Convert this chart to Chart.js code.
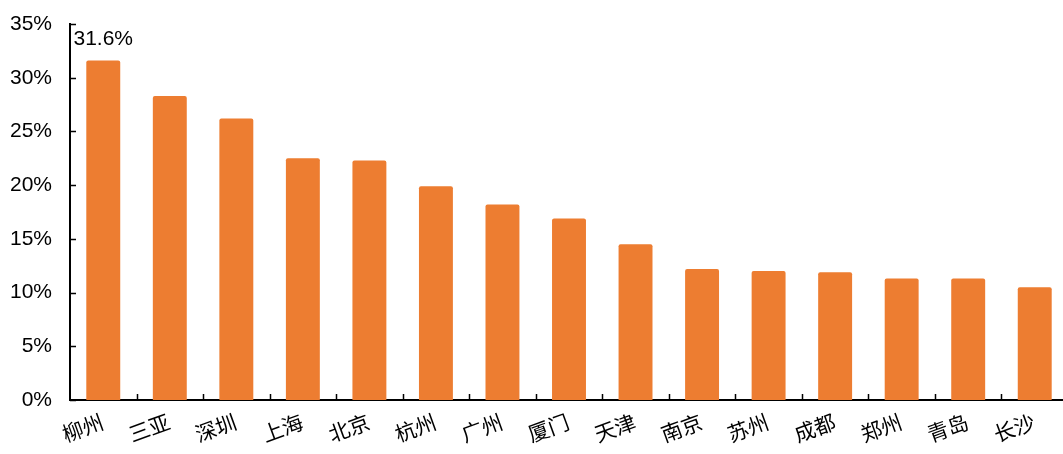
<!DOCTYPE html>
<html lang="zh">
<head>
    <meta charset="UTF-8">
    <title>城市占比</title>
    <script src="https://cdn.jsdelivr.net/npm/chart.js"></script>
    <style>
        html, body {
            margin: 0;
            padding: 0;
            background: #fff;
            overflow: hidden;
        }
        .chart-container {
            position: relative;
            width: 1068px;
            height: 454px;
        }
    </style>
</head>
<body>
    <div class="chart-container">
        <canvas id="barChart"></canvas>
    </div>

    <script>
        const cities = ['柳州', '三亚', '深圳', '上海', '北京', '杭州', '广州', '厦门', '天津', '南京', '苏州', '成都', '郑州', '青岛', '长沙'];
        const shares = [31.6, 28.3, 26.2, 22.5, 22.3, 19.9, 18.2, 16.9, 14.5, 12.2, 12.0, 11.9, 11.3, 11.3, 10.5];
        const yTicks = [0, 5, 10, 15, 20, 25, 30, 35];
        const labelledIndex = [0]; // only the first bar carries its value

        const fontFamily = '"Liberation Sans", Arial, "Noto Sans CJK SC", sans-serif';

        // short tick marks pointing into the plot area
        const innerTicks = {
            id: 'innerTicks',
            afterDraw(chart) {
                const { ctx, scales: { x, y } } = chart;
                ctx.save();
                ctx.strokeStyle = '#000';
                ctx.lineWidth = 1.5;
                ctx.beginPath();
                yTicks.forEach(v => {
                    const py = Math.round(y.getPixelForValue(v)) + 0.5;
                    ctx.moveTo(x.left, py);
                    ctx.lineTo(x.left + 6, py);
                });
                const step = (x.right - x.left) / cities.length;
                for (let i = 1; i <= cities.length; i++) {
                    const px = Math.round(x.left + i * step) + 0.5;
                    ctx.moveTo(px, y.bottom);
                    ctx.lineTo(px, y.bottom - 6);
                }
                ctx.stroke();
                ctx.restore();
            }
        };

        const valueLabels = {
            id: 'valueLabels',
            afterDatasetsDraw(chart) {
                const { ctx } = chart;
                const meta = chart.getDatasetMeta(0);
                ctx.save();
                ctx.font = '21px ' + fontFamily;
                ctx.fillStyle = '#000';
                ctx.textAlign = 'center';
                ctx.textBaseline = 'bottom';
                labelledIndex.forEach(i => {
                    const bar = meta.data[i];
                    ctx.fillText(shares[i].toFixed(1) + '%', bar.x, bar.y - 11);
                });
                ctx.restore();
            }
        };

        const ctx = document.getElementById('barChart').getContext('2d');
        new Chart(ctx, {
            type: 'bar',
            data: {
                labels: cities,
                datasets: [{
                    data: shares,
                    backgroundColor: '#ED7D31',
                    borderRadius: 2,
                    borderSkipped: 'bottom',
                    barPercentage: 0.51,
                    categoryPercentage: 1
                }]
            },
            options: {
                responsive: true,
                maintainAspectRatio: false,
                animation: false,
                layout: {
                    padding: { left: 0, top: 24, right: 0, bottom: 2 }
                },
                plugins: {
                    legend: { display: false },
                    tooltip: { enabled: false }
                },
                scales: {
                    x: {
                        grid: { display: false },
                        border: { display: true, color: '#000', width: 2 },
                        ticks: {
                            color: '#000',
                            font: { size: 21, family: fontFamily },
                            minRotation: 20,
                            maxRotation: 20,
                            padding: 3
                        }
                    },
                    y: {
                        min: 0,
                        max: 35,
                        grid: { display: false },
                        border: { display: true, color: '#000', width: 2 },
                        afterBuildTicks(scale) {
                            scale.ticks = yTicks.map(v => ({ value: v }));
                        },
                        afterFit(scale) {
                            scale.width = 70;
                        },
                        ticks: {
                            color: '#000',
                            font: { size: 21, family: fontFamily },
                            padding: 10,
                            callback: v => v + '%'
                        }
                    }
                }
            },
            plugins: [innerTicks, valueLabels]
        });
    </script>
</body>
</html>
